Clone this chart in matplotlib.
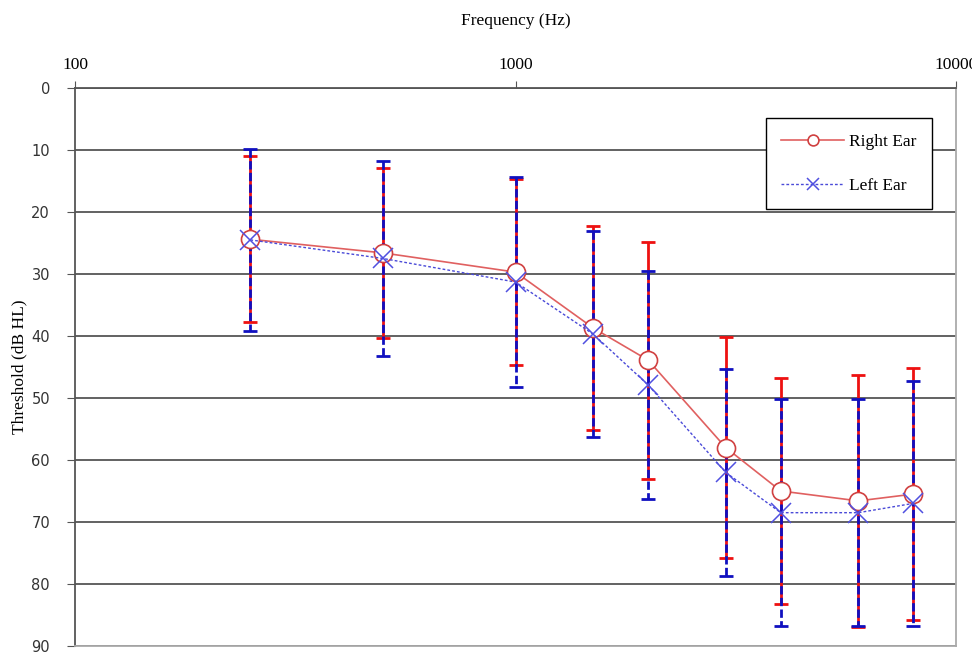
import matplotlib.pyplot as plt
import numpy as np

plt.rcParams['font.family'] = ['Liberation Serif', 'DejaVu Serif']

freq = [250, 500, 1000, 1500, 2000, 3000, 4000, 6000, 8000]
right_mean = [24.4, 26.6, 29.7, 38.7, 43.9, 58.0, 65.0, 66.6, 65.5]
right_sd = [13.4, 13.7, 15.0, 16.4, 19.1, 17.8, 18.2, 20.3, 20.3]
left_mean = [24.5, 27.5, 31.3, 39.7, 47.9, 62.0, 68.5, 68.5, 67.0]
left_sd = [14.7, 15.7, 16.9, 16.6, 18.4, 16.7, 18.3, 18.3, 19.7]

fig = plt.figure(figsize=(9.72, 6.62), dpi=100)
ax = fig.add_axes([0.0772, 0.0242, 0.9064, 0.8429])

# error bars: red solid underneath, blue dashed on top
ax.errorbar(freq, right_mean, yerr=right_sd, fmt='none', ecolor='#ee1111',
            elinewidth=2, capsize=5, capthick=2, zorder=3)
eb = ax.errorbar(freq, left_mean, yerr=left_sd, fmt='none', ecolor='#1010c0',
                 elinewidth=2, capsize=5, capthick=2, zorder=4)
eb[2][0].set_linestyle((0, (3, 1.2)))

ax.plot(freq, right_mean, color='#e06060', lw=1.2, marker='o', ms=13,
        mfc='white', mec='#d04040', mew=1.2, label='Right Ear', zorder=5)
ax.plot(freq, left_mean, color='#4a4ad8', lw=1.0, ls=(0, (2, 1.5)), marker='x',
        ms=15, mec='#5050e0', mew=1.1, label='Left Ear', zorder=6)

ax.set_xscale('log')
ax.set_xlim(100, 10000)
ax.set_ylim(90, 0)
ax.set_yticks(np.arange(0, 91, 10))
ax.xaxis.set_ticks_position('top')
ax.xaxis.set_label_position('top')
ax.set_xticks([100, 1000, 10000])
ax.set_xticklabels(['100', '1000', '10000'])
ax.xaxis.set_minor_locator(plt.NullLocator())
ax.tick_params(axis='x', direction='out', length=5, labelsize=12.5, pad=6, color='#555555')
ax.tick_params(axis='y', direction='out', length=6, labelsize=10.5, pad=12,
               color='#555555', labelcolor='#333333')
for lab in ax.get_yticklabels():
    lab.set_family(['DejaVu Sans'])
ax.set_xlabel('Frequency (Hz)', fontsize=12.5, labelpad=23)
ax.set_ylabel('Threshold (dB HL)', fontsize=12.5)
ax.yaxis.set_label_coords(-0.0545, 0.5)

ax.grid(axis='y', color='#555555', lw=1.3)
ax.set_axisbelow(True)
for s in ['top', 'left']:
    ax.spines[s].set_color('#555555')
    ax.spines[s].set_linewidth(1.3)
for s in ['right', 'bottom']:
    ax.spines[s].set_color('#aaaaaa')
    ax.spines[s].set_linewidth(1.3)

leg = ax.legend(loc='upper right', bbox_to_anchor=(0.9728, 0.946), borderaxespad=0,
                fancybox=False, edgecolor='black', framealpha=1, fontsize=12.5,
                handlelength=3.6, handletextpad=0.3, borderpad=0.9, labelspacing=1.6,
                markerscale=0.6)
leg.get_frame().set_linewidth(1.0)

fig.savefig('out.png', dpi=100)
